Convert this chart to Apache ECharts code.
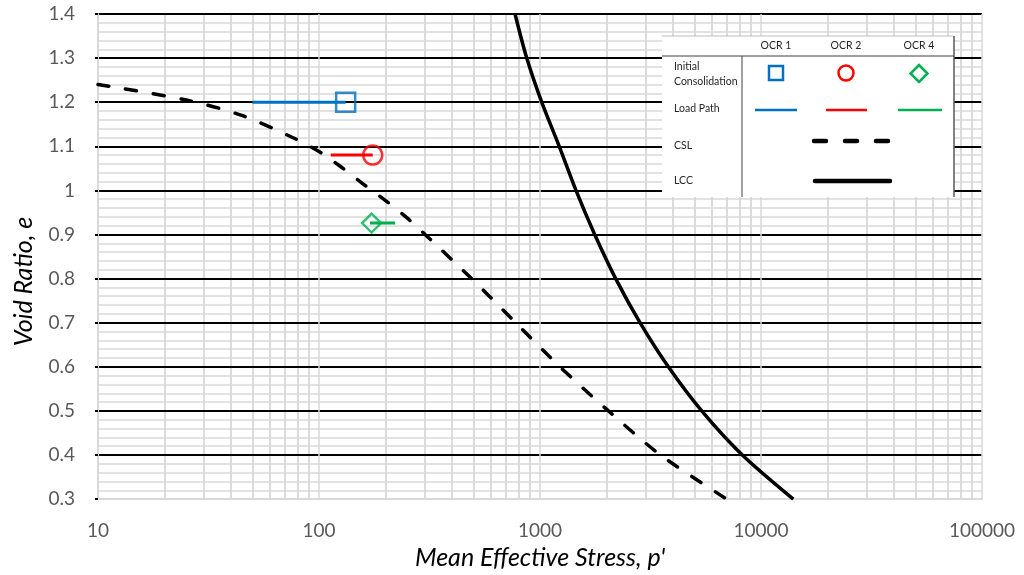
<!DOCTYPE html>
<html>
<head>
<meta charset="utf-8">
<script src="https://cdn.jsdelivr.net/npm/echarts@6/dist/echarts.min.js"></script>
<style>
    html, body { margin: 0; padding: 0; background: #fff; }
    #main { width: 1024px; height: 575px; }
</style>
</head>
<body>
<div id="main"></div>
<script>
    // CSL - critical state line (dashed)
    const cslStress = [10, 25.1, 44.7, 75.9, 100, 126, 158, 200, 251, 302, 490, 776, 1230, 2040, 3510, 7000];
    const cslVoid = [1.24, 1.205, 1.17, 1.12, 1.088, 1.053, 1.015, 0.977, 0.937, 0.9, 0.8, 0.7, 0.6, 0.5, 0.4, 0.3];

    // LCC - limiting compression curve (solid)
    const lccStress = [771, 871, 1018, 1222, 1455, 1768, 2200, 2835, 3807, 5392, 8231, 14000];
    const lccVoid = [1.4, 1.3, 1.2, 1.1, 1.0, 0.9, 0.8, 0.7, 0.6, 0.5, 0.4, 0.3];

    // initial consolidation points + load paths
    const ocrNames = ['OCR 1', 'OCR 2', 'OCR 4'];
    const ocrColors = ['#0070C0', '#FF0000', '#00B050'];
    const ocrSymbols = ['rect', 'circle', 'diamond'];
    const initStress = [132, 175, 173];
    const initVoid = [1.2, 1.08, 0.926];
    const pathStart = [50, 113, 170];
    const pathEnd = [132, 175, 221];

    // log grid helpers
    const decades = [10, 100, 1000, 10000];
    const minorMult = [2, 3, 4, 5, 6, 7, 8, 9];

    function toPairs(xs, ys) {
        return xs.map(function (x, i) { return [x, ys[i]]; });
    }

    let vLines = [];
    decades.forEach(function (d) {
        minorMult.forEach(function (m) {
            vLines.push({xAxis: d * m});
        });
    });

    // first split line (0.3, the bottom) is grey, the rest black
    let splitColors = ['#d9d9d9'];
    for (let i = 0; i < 11; i++) splitColors.push('#000');

    let series = [];
    series.push({
        name: 'CSL',
        type: 'line',
        data: toPairs(cslStress, cslVoid),
        showSymbol: false,
        smooth: 0.3,
        lineStyle: {color: '#000', width: 3.5, type: [11, 17], cap: 'round'},
        z: 3
    });
    series.push({
        name: 'LCC',
        type: 'line',
        data: toPairs(lccStress, lccVoid),
        showSymbol: false,
        smooth: 0.3,
        lineStyle: {color: '#000', width: 3.5},
        z: 3,
        markLine: {
            silent: true,
            z: -1,
            symbol: ['none', 'none'],
            label: {show: false},
            lineStyle: {color: '#cfcfcf', width: 1.5, type: 'solid'},
            data: vLines
        }
    });
    for (let i = 0; i < ocrNames.length; i++) {
        series.push({
            name: ocrNames[i] + ' path',
            type: 'line',
            data: [[pathStart[i], initVoid[i]], [pathEnd[i], initVoid[i]]],
            showSymbol: false,
            lineStyle: {color: ocrColors[i], width: 3},
            z: 4
        });
        series.push({
            name: ocrNames[i],
            type: 'scatter',
            data: [[initStress[i], initVoid[i]]],
            symbol: ocrSymbols[i],
            symbolSize: 19,
            itemStyle: {color: 'rgba(0,0,0,0)', borderColor: ocrColors[i], borderWidth: 2.5},
            z: 5
        });
    }

    // legend table (custom, top right)
    const lx = 662, ly = 36, lw = 292, lh = 161;
    const colX = [776, 846, 919];
    const txt = function (x, y, s, align) {
        return {
            type: 'text', x: x, y: y, z: 101,
            style: {text: s, fontSize: 10.5, fontFamily: 'Lato', fill: '#262626', align: align || 'left', verticalAlign: 'middle'}
        };
    };
    let graphics = [
        {type: 'rect', z: 100, shape: {x: lx, y: ly, width: lw, height: lh}, style: {fill: '#fff'}},
        {type: 'line', z: 101, shape: {x1: lx, y1: ly, x2: lx + lw, y2: ly}, style: {stroke: '#bfbfbf', lineWidth: 1}},
        {type: 'line', z: 101, shape: {x1: lx + lw, y1: ly, x2: lx + lw, y2: ly + lh}, style: {stroke: '#595959', lineWidth: 1.5}},
        {type: 'line', z: 101, shape: {x1: lx, y1: 56, x2: lx + lw, y2: 56}, style: {stroke: '#404040', lineWidth: 1}},
        {type: 'line', z: 101, shape: {x1: 742, y1: 56, x2: 742, y2: ly + lh}, style: {stroke: '#404040', lineWidth: 1}},
        txt(674, 67, 'Initial'),
        txt(674, 82, 'Consolidation'),
        txt(674, 109, 'Load Path'),
        txt(674, 146, 'CSL'),
        txt(674, 181, 'LCC'),
        // markers
        {type: 'rect', z: 101, shape: {x: colX[0] - 7, y: 66, width: 14, height: 14}, style: {fill: 'none', stroke: ocrColors[0], lineWidth: 2.5}},
        {type: 'circle', z: 101, shape: {cx: colX[1], cy: 73, r: 7.5}, style: {fill: 'none', stroke: ocrColors[1], lineWidth: 2.5}},
        {type: 'polygon', z: 101, shape: {points: [[colX[2], 65], [colX[2] + 8.5, 73.5], [colX[2], 82], [colX[2] - 8.5, 73.5]]}, style: {fill: 'none', stroke: ocrColors[2], lineWidth: 2.5}},
        // load path lines
        {type: 'line', z: 101, shape: {x1: 755, y1: 110, x2: 797, y2: 110}, style: {stroke: ocrColors[0], lineWidth: 2.5}},
        {type: 'line', z: 101, shape: {x1: 826, y1: 110, x2: 867, y2: 110}, style: {stroke: ocrColors[1], lineWidth: 2.5}},
        {type: 'line', z: 101, shape: {x1: 898, y1: 110, x2: 942, y2: 110}, style: {stroke: ocrColors[2], lineWidth: 2.5}},
        // CSL / LCC
        {type: 'line', z: 101, shape: {x1: 814, y1: 141, x2: 890, y2: 141}, style: {stroke: '#000', lineWidth: 4.5, lineDash: [12, 19], lineCap: 'round'}},
        {type: 'line', z: 101, shape: {x1: 815, y1: 181, x2: 890, y2: 181}, style: {stroke: '#000', lineWidth: 4.5, lineCap: 'round'}}
    ];
    ocrNames.forEach(function (n, i) {
        graphics.push(txt(colX[i], 46, n, 'center'));
    });

    let option = {
        animation: false,
        backgroundColor: '#fff',
        grid: {left: 98, right: 42, top: 14, bottom: 74},
        xAxis: {
            type: 'log',
            logBase: 10,
            min: 10,
            max: 100000,
            name: "Mean Effective Stress, p'",
            nameLocation: 'middle',
            nameGap: 42,
            nameTextStyle: {fontFamily: 'Lato', fontStyle: 'italic', fontSize: 25, color: '#000'},
            axisLine: {show: true, lineStyle: {color: '#d9d9d9', width: 2}},
            axisTick: {show: false},
            axisLabel: {
                margin: 22,
                fontFamily: 'Lato', fontSize: 19, color: '#595959',
                formatter: function (v) { return String(Math.round(v)); }
            },
            splitLine: {show: true, lineStyle: {color: '#d9d9d9', width: 1.5}}
        },
        yAxis: {
            type: 'value',
            min: 0.3,
            max: 1.4,
            interval: 0.1,
            name: 'Void Ratio, e',
            nameLocation: 'middle',
            nameGap: 62,
            nameTextStyle: {fontFamily: 'Lato', fontStyle: 'italic', fontSize: 25, color: '#000', padding: [0, 50, 0, 0]},
            axisLine: {show: true, lineStyle: {color: '#d9d9d9', width: 2}},
            axisTick: {
                show: true, length: 3, inside: false,
                interval: function (index) { return index > 0; },
                lineStyle: {color: '#000', width: 2}
            },
            axisLabel: {margin: 23, fontFamily: 'Lato', fontSize: 19, color: '#595959'},
            splitLine: {show: true, lineStyle: {color: splitColors, width: 2}},
            minorTick: {show: false, splitNumber: 5},
            minorSplitLine: {show: true, lineStyle: {color: '#d9d9d9', width: 1.5}}
        },
        series: series,
        graphic: graphics
    };

    let myChart = echarts.init(document.getElementById('main'));
    myChart.setOption(option);
</script>
</body>
</html>
